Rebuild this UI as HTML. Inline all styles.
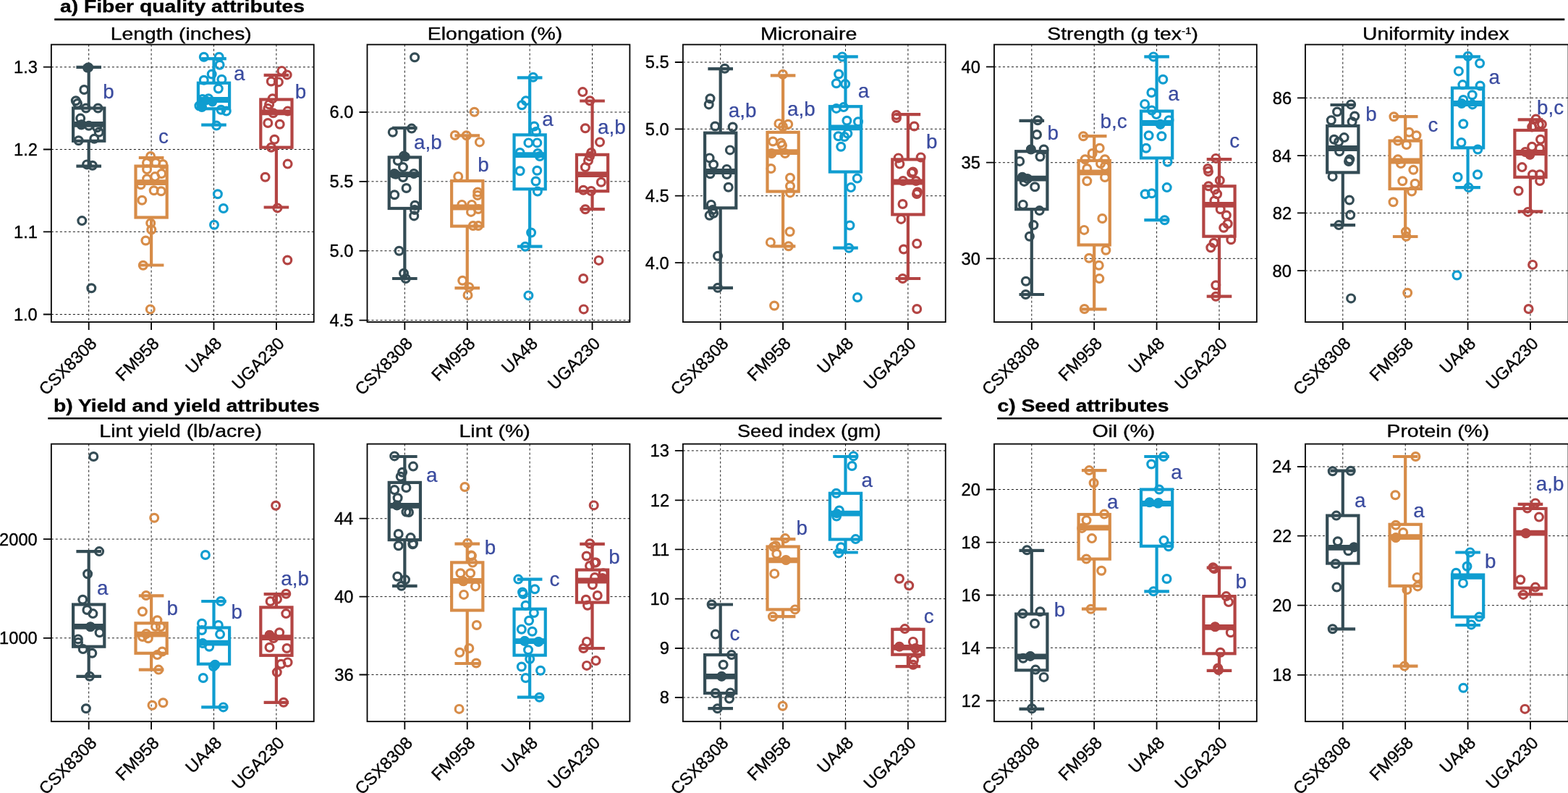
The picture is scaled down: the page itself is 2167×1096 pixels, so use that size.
<!DOCTYPE html>
<html><head><meta charset="utf-8"><title>Cotton fiber, yield and seed attributes</title>
<style>html,body{margin:0;padding:0;background:#fff;}svg{display:block;}</style></head><body>
<svg width="2167" height="1096" viewBox="0 0 2167 1096" font-family="'Liberation Sans', Arial, Helvetica, sans-serif">
<style>text{stroke:#000;stroke-width:0.35px;} text.let{stroke:#3a4b9f;stroke-width:0.25px;}</style>
<rect x="0" y="0" width="2167" height="1096" fill="#fff"/>
<text transform="translate(82.95,16.8) scale(1.1603,1)" font-size="24.4" font-weight="bold" fill="#000">a) Fiber quality attributes</text>
<line x1="75.2" y1="26.9" x2="2162.3" y2="26.9" stroke="#000" stroke-width="2.7"/>
<text transform="translate(73.96,568.7) scale(1.1601,1)" font-size="24.4" font-weight="bold" fill="#000">b) Yield and yield attributes</text>
<line x1="66.3" y1="578.2" x2="1301.5" y2="578.2" stroke="#000" stroke-width="2.5"/>
<text transform="translate(1378.47,568.5) scale(1.1580,1)" font-size="24.4" font-weight="bold" fill="#000">c) Seed attributes</text>
<line x1="1378.1" y1="578.2" x2="2167" y2="578.2" stroke="#000" stroke-width="2.5"/>
<g>
<path d="M70.86 434.5H433.74 M70.86 320.3H433.74 M70.86 206.5H433.74 M70.86 92.7H433.74 M122.7 61.6V445.1 M209.1 61.6V445.1 M295.5 61.6V445.1 M381.9 61.6V445.1" stroke="#1a1a1a" stroke-width="1.0" stroke-dasharray="3,3" fill="none"/>
<path d="M122.7 92.8V229.7 M105.4 92.8H140 M105.4 229.7H140" stroke="#344c55" stroke-width="4.2" fill="none"/>
<rect x="101.1" y="149.5" width="43.2" height="45.3" fill="#fff" stroke="#344c55" stroke-width="4.2"/>
<line x1="101.1" y1="171.8" x2="144.3" y2="171.8" stroke="#344c55" stroke-width="7.8"/>
<path d="M209.1 218V366.5 M191.8 218H226.4 M191.8 366.5H226.4" stroke="#d78c48" stroke-width="4.2" fill="none"/>
<rect x="187.5" y="229.6" width="43.2" height="70.9" fill="#fff" stroke="#d78c48" stroke-width="4.2"/>
<line x1="187.5" y1="252.2" x2="230.7" y2="252.2" stroke="#d78c48" stroke-width="7.8"/>
<path d="M295.5 81.1V172.7 M278.2 81.1H312.8 M278.2 172.7H312.8" stroke="#0f9dd0" stroke-width="4.2" fill="none"/>
<rect x="273.9" y="114.7" width="43.2" height="35.6" fill="#fff" stroke="#0f9dd0" stroke-width="4.2"/>
<line x1="273.9" y1="138" x2="317.1" y2="138" stroke="#0f9dd0" stroke-width="7.8"/>
<path d="M381.9 103.9V286.5 M364.6 103.9H399.2 M364.6 286.5H399.2" stroke="#b34443" stroke-width="4.2" fill="none"/>
<rect x="360.3" y="137.5" width="43.2" height="66.2" fill="#fff" stroke="#b34443" stroke-width="4.2"/>
<line x1="360.3" y1="155.4" x2="403.5" y2="155.4" stroke="#b34443" stroke-width="7.8"/>
<g fill="none" stroke="#344c55" stroke-width="3.2">
<circle cx="122.2" cy="93.3" r="5.4"/>
<circle cx="116.3" cy="124" r="5.4"/>
<circle cx="104.8" cy="139.3" r="5.4"/>
<circle cx="107" cy="143" r="5.4"/>
<circle cx="118.8" cy="149.5" r="5.4"/>
<circle cx="135.4" cy="149.5" r="5.4"/>
<circle cx="111.2" cy="163.6" r="5.4"/>
<circle cx="112.4" cy="172.5" r="5.4"/>
<circle cx="122.7" cy="173.8" r="5.4"/>
<circle cx="134.2" cy="176.3" r="5.4"/>
<circle cx="136.7" cy="182.7" r="5.4"/>
<circle cx="130.3" cy="191.7" r="5.4"/>
<circle cx="108.6" cy="194.2" r="5.4"/>
<circle cx="120.1" cy="227.4" r="5.4"/>
<circle cx="127.8" cy="228.7" r="5.4"/>
<circle cx="113.3" cy="305.1" r="5.4"/>
<circle cx="126.3" cy="398.2" r="5.4"/>
</g>
<g fill="none" stroke="#d78c48" stroke-width="3.2">
<circle cx="208.1" cy="216" r="5.4"/>
<circle cx="203" cy="225" r="5.4"/>
<circle cx="215.2" cy="225" r="5.4"/>
<circle cx="225.2" cy="227" r="5.4"/>
<circle cx="203.1" cy="234.1" r="5.4"/>
<circle cx="214.2" cy="244.1" r="5.4"/>
<circle cx="223.2" cy="240.1" r="5.4"/>
<circle cx="203.1" cy="247.2" r="5.4"/>
<circle cx="194.6" cy="255.2" r="5.4"/>
<circle cx="212.7" cy="263.2" r="5.4"/>
<circle cx="222.7" cy="264.2" r="5.4"/>
<circle cx="196.3" cy="276.8" r="5.4"/>
<circle cx="208.2" cy="308.4" r="5.4"/>
<circle cx="209.3" cy="317.5" r="5.4"/>
<circle cx="201.4" cy="332.5" r="5.4"/>
<circle cx="197.8" cy="366.8" r="5.4"/>
<circle cx="207.8" cy="427.4" r="5.4"/>
</g>
<g fill="none" stroke="#0f9dd0" stroke-width="3.2">
<circle cx="281.8" cy="78.7" r="5.4"/>
<circle cx="302.7" cy="78.7" r="5.4"/>
<circle cx="303.6" cy="89.7" r="5.4"/>
<circle cx="292.7" cy="102.5" r="5.4"/>
<circle cx="281.8" cy="110.7" r="5.4"/>
<circle cx="306.4" cy="109.8" r="5.4"/>
<circle cx="301.8" cy="122.5" r="5.4"/>
<circle cx="279.9" cy="137.1" r="5.4"/>
<circle cx="288.1" cy="136.2" r="5.4"/>
<circle cx="279" cy="148.1" r="5.4"/>
<circle cx="275.4" cy="146.3" r="5.4"/>
<circle cx="305.5" cy="151.7" r="5.4"/>
<circle cx="312.8" cy="153.6" r="5.4"/>
<circle cx="299.1" cy="173.6" r="5.4"/>
<circle cx="300.9" cy="268.3" r="5.4"/>
<circle cx="308.8" cy="288" r="5.4"/>
<circle cx="296" cy="310.8" r="5.4"/>
</g>
<g fill="none" stroke="#b34443" stroke-width="3.2">
<circle cx="389.4" cy="97.9" r="5.4"/>
<circle cx="396.7" cy="103.4" r="5.4"/>
<circle cx="374.8" cy="112.5" r="5.4"/>
<circle cx="384.9" cy="113.4" r="5.4"/>
<circle cx="376.7" cy="136.2" r="5.4"/>
<circle cx="372.1" cy="144.4" r="5.4"/>
<circle cx="370.3" cy="149.9" r="5.4"/>
<circle cx="397.6" cy="153.6" r="5.4"/>
<circle cx="377.6" cy="156.3" r="5.4"/>
<circle cx="370.3" cy="170" r="5.4"/>
<circle cx="386.7" cy="171.8" r="5.4"/>
<circle cx="379.4" cy="192.8" r="5.4"/>
<circle cx="374.8" cy="203.7" r="5.4"/>
<circle cx="397.6" cy="226.6" r="5.4"/>
<circle cx="366.6" cy="244.8" r="5.4"/>
<circle cx="383.4" cy="287.4" r="5.4"/>
<circle cx="397.3" cy="359.5" r="5.4"/>
</g>
<circle cx="120.6" cy="93.8" r="6.6" fill="#344c55"/>
<circle cx="112.9" cy="171.8" r="6.6" fill="#344c55"/>
<circle cx="284.5" cy="138.9" r="6.6" fill="#0f9dd0"/>
<circle cx="293.6" cy="140.8" r="6.6" fill="#0f9dd0"/>
<circle cx="278.5" cy="147.2" r="6.6" fill="#0f9dd0"/>
<text class="let" transform="translate(142.19,135.6) scale(1.0000,1)" font-size="27.8" fill="#3a4b9f">b</text>
<text class="let" transform="translate(218.95,197.6) scale(1.0000,1)" font-size="27.8" fill="#3a4b9f">c</text>
<text class="let" transform="translate(323.05,111) scale(1.0000,1)" font-size="27.8" fill="#3a4b9f">a</text>
<text class="let" transform="translate(407.69,135.6) scale(1.0000,1)" font-size="27.8" fill="#3a4b9f">b</text>
<rect x="70.86" y="61.6" width="362.88" height="383.5" fill="none" stroke="#000" stroke-width="1.8"/>
<path d="M59.86 434.5H70.86 M59.86 320.3H70.86 M59.86 206.5H70.86 M59.86 92.7H70.86 M122.7 445.1V456.1 M209.1 445.1V456.1 M295.5 445.1V456.1 M381.9 445.1V456.1" stroke="#000" stroke-width="1.8" fill="none"/>
<text transform="translate(18.88,442.9) scale(1.0300,1)" font-size="23" fill="#000">1.0</text>
<text transform="translate(19.12,328.7) scale(1.0300,1)" font-size="23" fill="#000">1.1</text>
<text transform="translate(19.12,214.9) scale(1.0300,1)" font-size="23" fill="#000">1.2</text>
<text transform="translate(19,101.1) scale(1.0300,1)" font-size="23" fill="#000">1.3</text>
<text transform="translate(135,476.1) rotate(-45)" font-size="23.6" text-anchor="end">CSX8308</text>
<text transform="translate(221.4,476.1) rotate(-45)" font-size="23.6" text-anchor="end">FM958</text>
<text transform="translate(307.8,476.1) rotate(-45)" font-size="23.6" text-anchor="end">UA48</text>
<text transform="translate(394.2,476.1) rotate(-45)" font-size="23.6" text-anchor="end">UGA230</text>
<text transform="translate(152.74,54.9) scale(1.1747,1)" font-size="24.1" fill="#000">Length (inches)</text>
</g>
<g>
<path d="M507.5 442.6H870.38 M507.5 346.7H870.38 M507.5 250.8H870.38 M507.5 155H870.38 M559.34 61.6V445.1 M645.74 61.6V445.1 M732.14 61.6V445.1 M818.54 61.6V445.1" stroke="#1a1a1a" stroke-width="1.0" stroke-dasharray="3,3" fill="none"/>
<path d="M559.34 176.9V385 M542.04 176.9H576.64 M542.04 385H576.64" stroke="#344c55" stroke-width="4.2" fill="none"/>
<rect x="537.74" y="217.4" width="43.2" height="70.6" fill="#fff" stroke="#344c55" stroke-width="4.2"/>
<line x1="537.74" y1="241.2" x2="580.94" y2="241.2" stroke="#344c55" stroke-width="7.8"/>
<path d="M645.74 187.3V398.2 M628.44 187.3H663.04 M628.44 398.2H663.04" stroke="#d78c48" stroke-width="4.2" fill="none"/>
<rect x="624.14" y="250" width="43.2" height="62.6" fill="#fff" stroke="#d78c48" stroke-width="4.2"/>
<line x1="624.14" y1="286.5" x2="667.34" y2="286.5" stroke="#d78c48" stroke-width="7.8"/>
<path d="M732.14 107.4V340.7 M714.84 107.4H749.44 M714.84 340.7H749.44" stroke="#0f9dd0" stroke-width="4.2" fill="none"/>
<rect x="710.54" y="186.4" width="43.2" height="74.9" fill="#fff" stroke="#0f9dd0" stroke-width="4.2"/>
<line x1="710.54" y1="214.2" x2="753.74" y2="214.2" stroke="#0f9dd0" stroke-width="7.8"/>
<path d="M818.54 139.5V289.2 M801.24 139.5H835.84 M801.24 289.2H835.84" stroke="#b34443" stroke-width="4.2" fill="none"/>
<rect x="796.94" y="213.8" width="43.2" height="50.4" fill="#fff" stroke="#b34443" stroke-width="4.2"/>
<line x1="796.94" y1="241.2" x2="840.14" y2="241.2" stroke="#b34443" stroke-width="7.8"/>
<g fill="none" stroke="#344c55" stroke-width="3.2">
<circle cx="573.1" cy="79.3" r="5.4"/>
<circle cx="542.8" cy="182.8" r="5.4"/>
<circle cx="568.9" cy="177.6" r="5.4"/>
<circle cx="558" cy="215.6" r="5.4"/>
<circle cx="549.8" cy="222" r="5.4"/>
<circle cx="557" cy="231.1" r="5.4"/>
<circle cx="545" cy="240" r="5.4"/>
<circle cx="557" cy="245" r="5.4"/>
<circle cx="572" cy="240" r="5.4"/>
<circle cx="561.6" cy="260" r="5.4"/>
<circle cx="545.2" cy="269.2" r="5.4"/>
<circle cx="573.5" cy="283.8" r="5.4"/>
<circle cx="573" cy="290" r="5.4"/>
<circle cx="572.2" cy="298.4" r="5.4"/>
<circle cx="551.6" cy="346.7" r="5.4"/>
<circle cx="558" cy="377.8" r="5.4"/>
<circle cx="560.7" cy="385" r="5.4"/>
</g>
<g fill="none" stroke="#d78c48" stroke-width="3.2">
<circle cx="655.6" cy="154.8" r="5.4"/>
<circle cx="628.8" cy="187" r="5.4"/>
<circle cx="644.7" cy="187.3" r="5.4"/>
<circle cx="662.9" cy="196.4" r="5.4"/>
<circle cx="633.2" cy="243.9" r="5.4"/>
<circle cx="660.2" cy="265.5" r="5.4"/>
<circle cx="660" cy="270" r="5.4"/>
<circle cx="638.3" cy="282.9" r="5.4"/>
<circle cx="652" cy="282.9" r="5.4"/>
<circle cx="651" cy="292.9" r="5.4"/>
<circle cx="661" cy="289" r="5.4"/>
<circle cx="653.8" cy="312" r="5.4"/>
<circle cx="661" cy="312" r="5.4"/>
<circle cx="639.2" cy="387.8" r="5.4"/>
<circle cx="648.3" cy="396.9" r="5.4"/>
<circle cx="646.5" cy="407.9" r="5.4"/>
</g>
<g fill="none" stroke="#0f9dd0" stroke-width="3.2">
<circle cx="736.8" cy="106.7" r="5.4"/>
<circle cx="726.8" cy="139.3" r="5.4"/>
<circle cx="721.3" cy="145.3" r="5.4"/>
<circle cx="738.3" cy="174.5" r="5.4"/>
<circle cx="741" cy="182" r="5.4"/>
<circle cx="730.4" cy="197.4" r="5.4"/>
<circle cx="742.3" cy="197.4" r="5.4"/>
<circle cx="718.6" cy="211" r="5.4"/>
<circle cx="743.2" cy="212" r="5.4"/>
<circle cx="746" cy="216" r="5.4"/>
<circle cx="718.6" cy="236.2" r="5.4"/>
<circle cx="742.3" cy="235.7" r="5.4"/>
<circle cx="740.5" cy="250.5" r="5.4"/>
<circle cx="742.9" cy="264.6" r="5.4"/>
<circle cx="734.1" cy="321.5" r="5.4"/>
<circle cx="725.9" cy="340.7" r="5.4"/>
<circle cx="730.4" cy="408.4" r="5.4"/>
</g>
<g fill="none" stroke="#b34443" stroke-width="3.2">
<circle cx="805.3" cy="127.1" r="5.4"/>
<circle cx="815.3" cy="139.3" r="5.4"/>
<circle cx="808.9" cy="177.3" r="5.4"/>
<circle cx="829" cy="196.4" r="5.4"/>
<circle cx="817.1" cy="211" r="5.4"/>
<circle cx="815" cy="216" r="5.4"/>
<circle cx="813" cy="222" r="5.4"/>
<circle cx="808.9" cy="231.1" r="5.4"/>
<circle cx="830.8" cy="251.8" r="5.4"/>
<circle cx="806.2" cy="262.8" r="5.4"/>
<circle cx="817" cy="264" r="5.4"/>
<circle cx="808.9" cy="289.2" r="5.4"/>
<circle cx="827.5" cy="359.9" r="5.4"/>
<circle cx="806.2" cy="385" r="5.4"/>
<circle cx="806.7" cy="427.4" r="5.4"/>
</g>
<circle cx="560.2" cy="216.5" r="6.6" fill="#344c55"/>
<circle cx="547" cy="241.2" r="6.6" fill="#344c55"/>
<text class="let" transform="translate(572.05,205.9) scale(1.0000,1)" font-size="27.8" fill="#3a4b9f">a,b</text>
<text class="let" transform="translate(660.19,237.2) scale(1.0000,1)" font-size="27.8" fill="#3a4b9f">b</text>
<text class="let" transform="translate(749.25,173.9) scale(1.0000,1)" font-size="27.8" fill="#3a4b9f">a</text>
<text class="let" transform="translate(825.95,184.9) scale(1.0000,1)" font-size="27.8" fill="#3a4b9f">a,b</text>
<rect x="507.5" y="61.6" width="362.88" height="383.5" fill="none" stroke="#000" stroke-width="1.8"/>
<path d="M496.5 442.6H507.5 M496.5 346.7H507.5 M496.5 250.8H507.5 M496.5 155H507.5 M559.34 445.1V456.1 M645.74 445.1V456.1 M732.14 445.1V456.1 M818.54 445.1V456.1" stroke="#000" stroke-width="1.8" fill="none"/>
<text transform="translate(455.52,451) scale(1.0300,1)" font-size="23" fill="#000">4.5</text>
<text transform="translate(455.52,355.1) scale(1.0300,1)" font-size="23" fill="#000">5.0</text>
<text transform="translate(455.52,259.2) scale(1.0300,1)" font-size="23" fill="#000">5.5</text>
<text transform="translate(455.52,163.4) scale(1.0300,1)" font-size="23" fill="#000">6.0</text>
<text transform="translate(571.64,476.1) rotate(-45)" font-size="23.6" text-anchor="end">CSX8308</text>
<text transform="translate(658.04,476.1) rotate(-45)" font-size="23.6" text-anchor="end">FM958</text>
<text transform="translate(744.44,476.1) rotate(-45)" font-size="23.6" text-anchor="end">UA48</text>
<text transform="translate(830.84,476.1) rotate(-45)" font-size="23.6" text-anchor="end">UGA230</text>
<text transform="translate(590.83,54.9) scale(1.1798,1)" font-size="24.1" fill="#000">Elongation (%)</text>
</g>
<g>
<path d="M943.85 363.2H1306.73 M943.85 270.7H1306.73 M943.85 178.3H1306.73 M943.85 86H1306.73 M995.69 61.6V445.1 M1082.09 61.6V445.1 M1168.49 61.6V445.1 M1254.89 61.6V445.1" stroke="#1a1a1a" stroke-width="1.0" stroke-dasharray="3,3" fill="none"/>
<path d="M995.69 95.2V397.8 M978.39 95.2H1012.99 M978.39 397.8H1012.99" stroke="#344c55" stroke-width="4.2" fill="none"/>
<rect x="974.09" y="183.7" width="43.2" height="103.7" fill="#fff" stroke="#344c55" stroke-width="4.2"/>
<line x1="974.09" y1="237" x2="1017.29" y2="237" stroke="#344c55" stroke-width="7.8"/>
<path d="M1082.09 104.3V340.3 M1064.79 104.3H1099.39 M1064.79 340.3H1099.39" stroke="#d78c48" stroke-width="4.2" fill="none"/>
<rect x="1060.49" y="182.8" width="43.2" height="81.8" fill="#fff" stroke="#d78c48" stroke-width="4.2"/>
<line x1="1060.49" y1="210.1" x2="1103.69" y2="210.1" stroke="#d78c48" stroke-width="7.8"/>
<path d="M1168.49 78.4V342.7 M1151.19 78.4H1185.79 M1151.19 342.7H1185.79" stroke="#0f9dd0" stroke-width="4.2" fill="none"/>
<rect x="1146.89" y="147.2" width="43.2" height="90.3" fill="#fff" stroke="#0f9dd0" stroke-width="4.2"/>
<line x1="1146.89" y1="176.4" x2="1190.09" y2="176.4" stroke="#0f9dd0" stroke-width="7.8"/>
<path d="M1254.89 158.1V385 M1237.59 158.1H1272.19 M1237.59 385H1272.19" stroke="#b34443" stroke-width="4.2" fill="none"/>
<rect x="1233.29" y="220.4" width="43.2" height="76.1" fill="#fff" stroke="#b34443" stroke-width="4.2"/>
<line x1="1233.29" y1="251.5" x2="1276.49" y2="251.5" stroke="#b34443" stroke-width="7.8"/>
<g fill="none" stroke="#344c55" stroke-width="3.2">
<circle cx="1001.6" cy="94.8" r="5.4"/>
<circle cx="981.5" cy="136.2" r="5.4"/>
<circle cx="979.7" cy="144.4" r="5.4"/>
<circle cx="988.3" cy="174.5" r="5.4"/>
<circle cx="1012.6" cy="175.5" r="5.4"/>
<circle cx="1008.9" cy="207.4" r="5.4"/>
<circle cx="980.6" cy="218.4" r="5.4"/>
<circle cx="986.1" cy="227.5" r="5.4"/>
<circle cx="1004.4" cy="233.9" r="5.4"/>
<circle cx="981.5" cy="240.3" r="5.4"/>
<circle cx="1004.4" cy="241" r="5.4"/>
<circle cx="1006.7" cy="258.8" r="5.4"/>
<circle cx="982.8" cy="282.9" r="5.4"/>
<circle cx="985" cy="290" r="5.4"/>
<circle cx="986.1" cy="294.7" r="5.4"/>
<circle cx="980.6" cy="297.8" r="5.4"/>
<circle cx="992" cy="353.7" r="5.4"/>
<circle cx="992" cy="397.8" r="5.4"/>
</g>
<g fill="none" stroke="#d78c48" stroke-width="3.2">
<circle cx="1081.9" cy="102.8" r="5.4"/>
<circle cx="1076.4" cy="170.9" r="5.4"/>
<circle cx="1089.2" cy="171.8" r="5.4"/>
<circle cx="1082" cy="175" r="5.4"/>
<circle cx="1068.2" cy="195.5" r="5.4"/>
<circle cx="1079.2" cy="197.4" r="5.4"/>
<circle cx="1081" cy="201" r="5.4"/>
<circle cx="1066.4" cy="212" r="5.4"/>
<circle cx="1085" cy="212" r="5.4"/>
<circle cx="1065.5" cy="233" r="5.4"/>
<circle cx="1092" cy="245.7" r="5.4"/>
<circle cx="1092" cy="257.3" r="5.4"/>
<circle cx="1092" cy="266.4" r="5.4"/>
<circle cx="1091.6" cy="320.3" r="5.4"/>
<circle cx="1064.9" cy="334.9" r="5.4"/>
<circle cx="1089.8" cy="340.3" r="5.4"/>
<circle cx="1070.1" cy="422.5" r="5.4"/>
</g>
<g fill="none" stroke="#0f9dd0" stroke-width="3.2">
<circle cx="1164" cy="78.4" r="5.4"/>
<circle cx="1159.1" cy="102.5" r="5.4"/>
<circle cx="1155.8" cy="115.2" r="5.4"/>
<circle cx="1168.2" cy="116.1" r="5.4"/>
<circle cx="1155.8" cy="149.9" r="5.4"/>
<circle cx="1165.9" cy="148.1" r="5.4"/>
<circle cx="1170.4" cy="166.7" r="5.4"/>
<circle cx="1186" cy="168.2" r="5.4"/>
<circle cx="1171.4" cy="184.6" r="5.4"/>
<circle cx="1158.6" cy="188.2" r="5.4"/>
<circle cx="1167" cy="189" r="5.4"/>
<circle cx="1162.2" cy="202.8" r="5.4"/>
<circle cx="1184.7" cy="246.6" r="5.4"/>
<circle cx="1175.9" cy="259.1" r="5.4"/>
<circle cx="1174.5" cy="311.5" r="5.4"/>
<circle cx="1173.2" cy="342.7" r="5.4"/>
<circle cx="1185" cy="411" r="5.4"/>
</g>
<g fill="none" stroke="#b34443" stroke-width="3.2">
<circle cx="1238.9" cy="159" r="5.4"/>
<circle cx="1239" cy="163" r="5.4"/>
<circle cx="1263.5" cy="174.5" r="5.4"/>
<circle cx="1241.6" cy="218.4" r="5.4"/>
<circle cx="1272.6" cy="217.4" r="5.4"/>
<circle cx="1243.4" cy="226.6" r="5.4"/>
<circle cx="1261.7" cy="237.5" r="5.4"/>
<circle cx="1260" cy="239" r="5.4"/>
<circle cx="1248" cy="250" r="5.4"/>
<circle cx="1266" cy="250" r="5.4"/>
<circle cx="1268.1" cy="265.5" r="5.4"/>
<circle cx="1267" cy="268" r="5.4"/>
<circle cx="1247.5" cy="282" r="5.4"/>
<circle cx="1245.3" cy="302.9" r="5.4"/>
<circle cx="1267.2" cy="336.7" r="5.4"/>
<circle cx="1248.9" cy="344.5" r="5.4"/>
<circle cx="1247.5" cy="385" r="5.4"/>
<circle cx="1267.2" cy="427" r="5.4"/>
</g>
<circle cx="1066.4" cy="212" r="6.6" fill="#d78c48"/>
<text class="let" transform="translate(1006.75,162.1) scale(1.0000,1)" font-size="27.8" fill="#3a4b9f">a,b</text>
<text class="let" transform="translate(1087.95,160.2) scale(1.0000,1)" font-size="27.8" fill="#3a4b9f">a,b</text>
<text class="let" transform="translate(1185.65,134.7) scale(1.0000,1)" font-size="27.8" fill="#3a4b9f">a</text>
<text class="let" transform="translate(1279.99,204.9) scale(1.0000,1)" font-size="27.8" fill="#3a4b9f">b</text>
<rect x="943.85" y="61.6" width="362.88" height="383.5" fill="none" stroke="#000" stroke-width="1.8"/>
<path d="M932.85 363.2H943.85 M932.85 270.7H943.85 M932.85 178.3H943.85 M932.85 86H943.85 M995.69 445.1V456.1 M1082.09 445.1V456.1 M1168.49 445.1V456.1 M1254.89 445.1V456.1" stroke="#000" stroke-width="1.8" fill="none"/>
<text transform="translate(891.87,371.6) scale(1.0300,1)" font-size="23" fill="#000">4.0</text>
<text transform="translate(891.87,279.1) scale(1.0300,1)" font-size="23" fill="#000">4.5</text>
<text transform="translate(891.87,186.7) scale(1.0300,1)" font-size="23" fill="#000">5.0</text>
<text transform="translate(891.87,94.4) scale(1.0300,1)" font-size="23" fill="#000">5.5</text>
<text transform="translate(1007.99,476.1) rotate(-45)" font-size="23.6" text-anchor="end">CSX8308</text>
<text transform="translate(1094.39,476.1) rotate(-45)" font-size="23.6" text-anchor="end">FM958</text>
<text transform="translate(1180.79,476.1) rotate(-45)" font-size="23.6" text-anchor="end">UA48</text>
<text transform="translate(1267.19,476.1) rotate(-45)" font-size="23.6" text-anchor="end">UGA230</text>
<text transform="translate(1050.91,54.9) scale(1.1863,1)" font-size="24.1" fill="#000">Micronaire</text>
</g>
<g>
<path d="M1373.95 357.3H1736.83 M1373.95 224.7H1736.83 M1373.95 92.4H1736.83 M1425.79 61.6V445.1 M1512.19 61.6V445.1 M1598.59 61.6V445.1 M1684.99 61.6V445.1" stroke="#1a1a1a" stroke-width="1.0" stroke-dasharray="3,3" fill="none"/>
<path d="M1425.79 166.9V407 M1408.49 166.9H1443.09 M1408.49 407H1443.09" stroke="#344c55" stroke-width="4.2" fill="none"/>
<rect x="1404.19" y="209.2" width="43.2" height="80" fill="#fff" stroke="#344c55" stroke-width="4.2"/>
<line x1="1404.19" y1="246.6" x2="1447.39" y2="246.6" stroke="#344c55" stroke-width="7.8"/>
<path d="M1512.19 188.2V427.4 M1494.89 188.2H1529.49 M1494.89 427.4H1529.49" stroke="#d78c48" stroke-width="4.2" fill="none"/>
<rect x="1490.59" y="222" width="43.2" height="116.5" fill="#fff" stroke="#d78c48" stroke-width="4.2"/>
<line x1="1490.59" y1="238.4" x2="1533.79" y2="238.4" stroke="#d78c48" stroke-width="7.8"/>
<path d="M1598.59 78.4V304.2 M1581.29 78.4H1615.89 M1581.29 304.2H1615.89" stroke="#0f9dd0" stroke-width="4.2" fill="none"/>
<rect x="1576.99" y="153.6" width="43.2" height="64.8" fill="#fff" stroke="#0f9dd0" stroke-width="4.2"/>
<line x1="1576.99" y1="170" x2="1620.19" y2="170" stroke="#0f9dd0" stroke-width="7.8"/>
<path d="M1684.99 220.2V409.7 M1667.69 220.2H1702.29 M1667.69 409.7H1702.29" stroke="#b34443" stroke-width="4.2" fill="none"/>
<rect x="1663.39" y="257.3" width="43.2" height="69.4" fill="#fff" stroke="#b34443" stroke-width="4.2"/>
<line x1="1663.39" y1="282.9" x2="1706.59" y2="282.9" stroke="#b34443" stroke-width="7.8"/>
<g fill="none" stroke="#344c55" stroke-width="3.2">
<circle cx="1434.2" cy="166.3" r="5.4"/>
<circle cx="1433" cy="186" r="5.4"/>
<circle cx="1424.8" cy="206.5" r="5.4"/>
<circle cx="1442.6" cy="206.5" r="5.4"/>
<circle cx="1437.5" cy="216.5" r="5.4"/>
<circle cx="1409.2" cy="222.9" r="5.4"/>
<circle cx="1412.9" cy="244.8" r="5.4"/>
<circle cx="1420" cy="247" r="5.4"/>
<circle cx="1415.6" cy="250.9" r="5.4"/>
<circle cx="1430.2" cy="258.2" r="5.4"/>
<circle cx="1413.8" cy="282.9" r="5.4"/>
<circle cx="1436.6" cy="291.1" r="5.4"/>
<circle cx="1428.4" cy="311.1" r="5.4"/>
<circle cx="1422.9" cy="326.7" r="5.4"/>
<circle cx="1417.8" cy="388.7" r="5.4"/>
<circle cx="1417.5" cy="407" r="5.4"/>
</g>
<g fill="none" stroke="#d78c48" stroke-width="3.2">
<circle cx="1497.2" cy="188.2" r="5.4"/>
<circle cx="1519.7" cy="204.7" r="5.4"/>
<circle cx="1509.6" cy="212" r="5.4"/>
<circle cx="1499.6" cy="220.2" r="5.4"/>
<circle cx="1527" cy="220.2" r="5.4"/>
<circle cx="1521" cy="226" r="5.4"/>
<circle cx="1502.3" cy="233" r="5.4"/>
<circle cx="1527" cy="230" r="5.4"/>
<circle cx="1502.3" cy="250.3" r="5.4"/>
<circle cx="1527" cy="245" r="5.4"/>
<circle cx="1523.3" cy="302" r="5.4"/>
<circle cx="1498.3" cy="317.9" r="5.4"/>
<circle cx="1528.4" cy="345.8" r="5.4"/>
<circle cx="1505.1" cy="356.8" r="5.4"/>
<circle cx="1518.7" cy="366.8" r="5.4"/>
<circle cx="1519.3" cy="385.1" r="5.4"/>
<circle cx="1498.7" cy="427" r="5.4"/>
</g>
<g fill="none" stroke="#0f9dd0" stroke-width="3.2">
<circle cx="1594.1" cy="78.4" r="5.4"/>
<circle cx="1607.3" cy="109.8" r="5.4"/>
<circle cx="1591.4" cy="128" r="5.4"/>
<circle cx="1582.1" cy="143.9" r="5.4"/>
<circle cx="1591.8" cy="152.6" r="5.4"/>
<circle cx="1598.1" cy="158.1" r="5.4"/>
<circle cx="1615.5" cy="166.3" r="5.4"/>
<circle cx="1603.6" cy="171.8" r="5.4"/>
<circle cx="1587.6" cy="187.3" r="5.4"/>
<circle cx="1605.4" cy="188.2" r="5.4"/>
<circle cx="1583.9" cy="204.7" r="5.4"/>
<circle cx="1613.6" cy="223.8" r="5.4"/>
<circle cx="1612.7" cy="259.1" r="5.4"/>
<circle cx="1582.6" cy="268.3" r="5.4"/>
<circle cx="1591.8" cy="267.3" r="5.4"/>
<circle cx="1609.5" cy="304.2" r="5.4"/>
</g>
<g fill="none" stroke="#b34443" stroke-width="3.2">
<circle cx="1680.3" cy="218.9" r="5.4"/>
<circle cx="1669.3" cy="233" r="5.4"/>
<circle cx="1670" cy="237" r="5.4"/>
<circle cx="1685.8" cy="249.4" r="5.4"/>
<circle cx="1670.2" cy="257.3" r="5.4"/>
<circle cx="1679" cy="262" r="5.4"/>
<circle cx="1682.1" cy="268.3" r="5.4"/>
<circle cx="1678.4" cy="277.4" r="5.4"/>
<circle cx="1686.7" cy="289.2" r="5.4"/>
<circle cx="1694.9" cy="297.5" r="5.4"/>
<circle cx="1696.7" cy="309.3" r="5.4"/>
<circle cx="1691.2" cy="314.8" r="5.4"/>
<circle cx="1701.3" cy="331.2" r="5.4"/>
<circle cx="1677.5" cy="335.8" r="5.4"/>
<circle cx="1673.3" cy="342.2" r="5.4"/>
<circle cx="1680.3" cy="394.2" r="5.4"/>
<circle cx="1680.3" cy="409.7" r="5.4"/>
</g>
<circle cx="1424.8" cy="206.5" r="6.6" fill="#344c55"/>
<circle cx="1412.9" cy="244.8" r="6.6" fill="#344c55"/>
<circle cx="1603.6" cy="171.8" r="6.6" fill="#0f9dd0"/>
<text class="let" transform="translate(1447.59,193.1) scale(1.0000,1)" font-size="27.8" fill="#3a4b9f">b</text>
<text class="let" transform="translate(1520.59,176.7) scale(1.0000,1)" font-size="27.8" fill="#3a4b9f">b,c</text>
<text class="let" transform="translate(1614.25,139.2) scale(1.0000,1)" font-size="27.8" fill="#3a4b9f">a</text>
<text class="let" transform="translate(1699.15,204.4) scale(1.0000,1)" font-size="27.8" fill="#3a4b9f">c</text>
<rect x="1373.95" y="61.6" width="362.88" height="383.5" fill="none" stroke="#000" stroke-width="1.8"/>
<path d="M1362.95 357.3H1373.95 M1362.95 224.7H1373.95 M1362.95 92.4H1373.95 M1425.79 445.1V456.1 M1512.19 445.1V456.1 M1598.59 445.1V456.1 M1684.99 445.1V456.1" stroke="#000" stroke-width="1.8" fill="none"/>
<text transform="translate(1328.6,365.7) scale(1.0300,1)" font-size="23" fill="#000">30</text>
<text transform="translate(1328.6,233.1) scale(1.0300,1)" font-size="23" fill="#000">35</text>
<text transform="translate(1328.6,100.8) scale(1.0300,1)" font-size="23" fill="#000">40</text>
<text transform="translate(1438.09,476.1) rotate(-45)" font-size="23.6" text-anchor="end">CSX8308</text>
<text transform="translate(1524.49,476.1) rotate(-45)" font-size="23.6" text-anchor="end">FM958</text>
<text transform="translate(1610.89,476.1) rotate(-45)" font-size="23.6" text-anchor="end">UA48</text>
<text transform="translate(1697.29,476.1) rotate(-45)" font-size="23.6" text-anchor="end">UGA230</text>
<text transform="translate(1447.33,54.9) scale(1.1750,1)" font-size="24.1">Strength (g tex<tspan font-size="13" dy="-8">-1</tspan><tspan dy="8">)</tspan></text>
</g>
<g>
<path d="M1803.95 374.1H2167.5 M1803.95 294.4H2167.5 M1803.95 215.1H2167.5 M1803.95 135.3H2167.5 M1855.79 61.6V445.1 M1942.19 61.6V445.1 M2028.59 61.6V445.1 M2114.99 61.6V445.1" stroke="#1a1a1a" stroke-width="1.0" stroke-dasharray="3,3" fill="none"/>
<path d="M1855.79 145V311.1 M1838.49 145H1873.09 M1838.49 311.1H1873.09" stroke="#344c55" stroke-width="4.2" fill="none"/>
<rect x="1834.19" y="174" width="43.2" height="64.4" fill="#fff" stroke="#344c55" stroke-width="4.2"/>
<line x1="1834.19" y1="205" x2="1877.39" y2="205" stroke="#344c55" stroke-width="7.8"/>
<path d="M1942.19 161.2V327 M1924.89 161.2H1959.49 M1924.89 327H1959.49" stroke="#d78c48" stroke-width="4.2" fill="none"/>
<rect x="1920.59" y="194.6" width="43.2" height="66.4" fill="#fff" stroke="#d78c48" stroke-width="4.2"/>
<line x1="1920.59" y1="222.5" x2="1963.79" y2="222.5" stroke="#d78c48" stroke-width="7.8"/>
<path d="M2028.59 78.4V259.1 M2011.29 78.4H2045.89 M2011.29 259.1H2045.89" stroke="#0f9dd0" stroke-width="4.2" fill="none"/>
<rect x="2006.99" y="121.6" width="43.2" height="82.7" fill="#fff" stroke="#0f9dd0" stroke-width="4.2"/>
<line x1="2006.99" y1="143" x2="2050.19" y2="143" stroke="#0f9dd0" stroke-width="7.8"/>
<path d="M2114.99 165.4V292.3 M2097.69 165.4H2132.29 M2097.69 292.3H2132.29" stroke="#b34443" stroke-width="4.2" fill="none"/>
<rect x="2093.39" y="180" width="43.2" height="64.8" fill="#fff" stroke="#b34443" stroke-width="4.2"/>
<line x1="2093.39" y1="211" x2="2136.59" y2="211" stroke="#b34443" stroke-width="7.8"/>
<g fill="none" stroke="#344c55" stroke-width="3.2">
<circle cx="1867.1" cy="144.4" r="5.4"/>
<circle cx="1848" cy="154.5" r="5.4"/>
<circle cx="1872.2" cy="160.5" r="5.4"/>
<circle cx="1839.8" cy="166.3" r="5.4"/>
<circle cx="1868.6" cy="168.2" r="5.4"/>
<circle cx="1857.6" cy="190.1" r="5.4"/>
<circle cx="1843.8" cy="192.8" r="5.4"/>
<circle cx="1850" cy="196" r="5.4"/>
<circle cx="1851.1" cy="209.2" r="5.4"/>
<circle cx="1865.3" cy="220.2" r="5.4"/>
<circle cx="1864" cy="223" r="5.4"/>
<circle cx="1841.6" cy="243.9" r="5.4"/>
<circle cx="1864.9" cy="276.5" r="5.4"/>
<circle cx="1866.2" cy="297.1" r="5.4"/>
<circle cx="1850.3" cy="311.1" r="5.4"/>
<circle cx="1867.1" cy="412.4" r="5.4"/>
</g>
<g fill="none" stroke="#d78c48" stroke-width="3.2">
<circle cx="1926.4" cy="161.2" r="5.4"/>
<circle cx="1947.4" cy="182.8" r="5.4"/>
<circle cx="1957.5" cy="187.3" r="5.4"/>
<circle cx="1931.9" cy="194.6" r="5.4"/>
<circle cx="1943.8" cy="200.1" r="5.4"/>
<circle cx="1931.9" cy="220.2" r="5.4"/>
<circle cx="1936" cy="226" r="5.4"/>
<circle cx="1953.3" cy="234.8" r="5.4"/>
<circle cx="1938.3" cy="250.3" r="5.4"/>
<circle cx="1955.6" cy="253.7" r="5.4"/>
<circle cx="1951.1" cy="264.6" r="5.4"/>
<circle cx="1925.5" cy="279.2" r="5.4"/>
<circle cx="1942.9" cy="320.3" r="5.4"/>
<circle cx="1943.4" cy="326.7" r="5.4"/>
<circle cx="1945.2" cy="404.8" r="5.4"/>
</g>
<g fill="none" stroke="#0f9dd0" stroke-width="3.2">
<circle cx="2028.7" cy="77.8" r="5.4"/>
<circle cx="2045.1" cy="87.5" r="5.4"/>
<circle cx="2015.9" cy="98.4" r="5.4"/>
<circle cx="2021.4" cy="117.1" r="5.4"/>
<circle cx="2045.6" cy="118.5" r="5.4"/>
<circle cx="2034.7" cy="131.3" r="5.4"/>
<circle cx="2022.3" cy="138" r="5.4"/>
<circle cx="2020" cy="143" r="5.4"/>
<circle cx="2035" cy="144.4" r="5.4"/>
<circle cx="2022.3" cy="171.3" r="5.4"/>
<circle cx="2019.5" cy="197" r="5.4"/>
<circle cx="2042.3" cy="206.5" r="5.4"/>
<circle cx="2014.6" cy="244.8" r="5.4"/>
<circle cx="2042" cy="241.2" r="5.4"/>
<circle cx="2029.6" cy="259.1" r="5.4"/>
<circle cx="2013.5" cy="380.5" r="5.4"/>
</g>
<g fill="none" stroke="#b34443" stroke-width="3.2">
<circle cx="2122.7" cy="164.5" r="5.4"/>
<circle cx="2130.9" cy="171.8" r="5.4"/>
<circle cx="2127" cy="172" r="5.4"/>
<circle cx="2117.2" cy="175.5" r="5.4"/>
<circle cx="2129" cy="192.8" r="5.4"/>
<circle cx="2117.2" cy="202.8" r="5.4"/>
<circle cx="2128" cy="205" r="5.4"/>
<circle cx="2114.4" cy="213.8" r="5.4"/>
<circle cx="2108" cy="210" r="5.4"/>
<circle cx="2103.5" cy="231.1" r="5.4"/>
<circle cx="2118.1" cy="241.2" r="5.4"/>
<circle cx="2128.1" cy="241.2" r="5.4"/>
<circle cx="2128.1" cy="250" r="5.4"/>
<circle cx="2098.6" cy="263.7" r="5.4"/>
<circle cx="2111.7" cy="292.9" r="5.4"/>
<circle cx="2118.1" cy="365.9" r="5.4"/>
<circle cx="2112.6" cy="427" r="5.4"/>
</g>
<circle cx="2114.4" cy="213.8" r="6.6" fill="#b34443"/>
<text class="let" transform="translate(1887.19,166.6) scale(1.0000,1)" font-size="27.8" fill="#3a4b9f">b</text>
<text class="let" transform="translate(1973.55,182.1) scale(1.0000,1)" font-size="27.8" fill="#3a4b9f">c</text>
<text class="let" transform="translate(2057.55,115.5) scale(1.0000,1)" font-size="27.8" fill="#3a4b9f">a</text>
<text class="let" transform="translate(2124.09,157.5) scale(1.0000,1)" font-size="27.8" fill="#3a4b9f">b,c</text>
<rect x="1803.95" y="61.6" width="363.55" height="383.5" fill="none" stroke="#000" stroke-width="1.8"/>
<path d="M1792.95 374.1H1803.95 M1792.95 294.4H1803.95 M1792.95 215.1H1803.95 M1792.95 135.3H1803.95 M1855.79 445.1V456.1 M1942.19 445.1V456.1 M2028.59 445.1V456.1 M2114.99 445.1V456.1" stroke="#000" stroke-width="1.8" fill="none"/>
<text transform="translate(1758.6,382.5) scale(1.0300,1)" font-size="23" fill="#000">80</text>
<text transform="translate(1758.84,302.8) scale(1.0300,1)" font-size="23" fill="#000">82</text>
<text transform="translate(1758.36,223.5) scale(1.0300,1)" font-size="23" fill="#000">84</text>
<text transform="translate(1758.72,143.7) scale(1.0300,1)" font-size="23" fill="#000">86</text>
<text transform="translate(1868.09,476.1) rotate(-45)" font-size="23.6" text-anchor="end">CSX8308</text>
<text transform="translate(1954.49,476.1) rotate(-45)" font-size="23.6" text-anchor="end">FM958</text>
<text transform="translate(2040.89,476.1) rotate(-45)" font-size="23.6" text-anchor="end">UA48</text>
<text transform="translate(2127.29,476.1) rotate(-45)" font-size="23.6" text-anchor="end">UGA230</text>
<text transform="translate(1883.08,54.9) scale(1.1731,1)" font-size="24.1" fill="#000">Uniformity index</text>
</g>
<g>
<path d="M70.86 881.8H433.74 M70.86 745.1H433.74 M122.7 613.6V997.2 M209.1 613.6V997.2 M295.5 613.6V997.2 M381.9 613.6V997.2" stroke="#1a1a1a" stroke-width="1.0" stroke-dasharray="3,3" fill="none"/>
<path d="M122.7 762.1V934.8 M105.4 762.1H140 M105.4 934.8H140" stroke="#344c55" stroke-width="4.2" fill="none"/>
<rect x="101.1" y="835.5" width="43.2" height="58.2" fill="#fff" stroke="#344c55" stroke-width="4.2"/>
<line x1="101.1" y1="865.9" x2="144.3" y2="865.9" stroke="#344c55" stroke-width="7.8"/>
<path d="M209.1 823.4V925.6 M191.8 823.4H226.4 M191.8 925.6H226.4" stroke="#d78c48" stroke-width="4.2" fill="none"/>
<rect x="187.5" y="861.3" width="43.2" height="41.5" fill="#fff" stroke="#d78c48" stroke-width="4.2"/>
<line x1="187.5" y1="876.6" x2="230.7" y2="876.6" stroke="#d78c48" stroke-width="7.8"/>
<path d="M295.5 831V977.4 M278.2 831H312.8 M278.2 977.4H312.8" stroke="#0f9dd0" stroke-width="4.2" fill="none"/>
<rect x="273.9" y="867.5" width="43.2" height="50.2" fill="#fff" stroke="#0f9dd0" stroke-width="4.2"/>
<line x1="273.9" y1="888.7" x2="317.1" y2="888.7" stroke="#0f9dd0" stroke-width="7.8"/>
<path d="M381.9 821.2V970.8 M364.6 821.2H399.2 M364.6 970.8H399.2" stroke="#b34443" stroke-width="4.2" fill="none"/>
<rect x="360.3" y="839.4" width="43.2" height="66.4" fill="#fff" stroke="#b34443" stroke-width="4.2"/>
<line x1="360.3" y1="881.2" x2="403.5" y2="881.2" stroke="#b34443" stroke-width="7.8"/>
<g fill="none" stroke="#344c55" stroke-width="3.2">
<circle cx="129.3" cy="631" r="5.4"/>
<circle cx="137.1" cy="762.1" r="5.4"/>
<circle cx="121.1" cy="793.3" r="5.4"/>
<circle cx="114.3" cy="828.7" r="5.4"/>
<circle cx="120.4" cy="843" r="5.4"/>
<circle cx="128.4" cy="848.1" r="5.4"/>
<circle cx="125" cy="866.3" r="5.4"/>
<circle cx="137.6" cy="874.3" r="5.4"/>
<circle cx="107.9" cy="883.4" r="5.4"/>
<circle cx="108" cy="888" r="5.4"/>
<circle cx="114.7" cy="897.1" r="5.4"/>
<circle cx="127.3" cy="902.8" r="5.4"/>
<circle cx="123.9" cy="934.8" r="5.4"/>
<circle cx="118.9" cy="979.2" r="5.4"/>
</g>
<g fill="none" stroke="#d78c48" stroke-width="3.2">
<circle cx="213.2" cy="715.7" r="5.4"/>
<circle cx="201.9" cy="823" r="5.4"/>
<circle cx="196.9" cy="845.3" r="5.4"/>
<circle cx="217.4" cy="857.2" r="5.4"/>
<circle cx="222" cy="866.3" r="5.4"/>
<circle cx="215" cy="866" r="5.4"/>
<circle cx="202" cy="876" r="5.4"/>
<circle cx="204.8" cy="882.3" r="5.4"/>
<circle cx="197" cy="880" r="5.4"/>
<circle cx="217.4" cy="905.1" r="5.4"/>
<circle cx="224.2" cy="900.5" r="5.4"/>
<circle cx="219.2" cy="925.6" r="5.4"/>
<circle cx="210.5" cy="974.7" r="5.4"/>
<circle cx="225.4" cy="971.3" r="5.4"/>
</g>
<g fill="none" stroke="#0f9dd0" stroke-width="3.2">
<circle cx="283.9" cy="767" r="5.4"/>
<circle cx="305.2" cy="831" r="5.4"/>
<circle cx="279" cy="861.8" r="5.4"/>
<circle cx="301.8" cy="864" r="5.4"/>
<circle cx="304.1" cy="876.6" r="5.4"/>
<circle cx="279" cy="871" r="5.4"/>
<circle cx="280.1" cy="889.1" r="5.4"/>
<circle cx="289.2" cy="893.7" r="5.4"/>
<circle cx="297.2" cy="918.8" r="5.4"/>
<circle cx="295" cy="921" r="5.4"/>
<circle cx="280.8" cy="937" r="5.4"/>
<circle cx="308.6" cy="977.4" r="5.4"/>
</g>
<g fill="none" stroke="#b34443" stroke-width="3.2">
<circle cx="381.1" cy="698.8" r="5.4"/>
<circle cx="395.3" cy="820.7" r="5.4"/>
<circle cx="373.6" cy="831" r="5.4"/>
<circle cx="383" cy="828" r="5.4"/>
<circle cx="395.3" cy="848.1" r="5.4"/>
<circle cx="372.5" cy="877.7" r="5.4"/>
<circle cx="386.2" cy="874.3" r="5.4"/>
<circle cx="378" cy="882" r="5.4"/>
<circle cx="372.5" cy="894.8" r="5.4"/>
<circle cx="396.5" cy="896" r="5.4"/>
<circle cx="388.5" cy="917.7" r="5.4"/>
<circle cx="397.6" cy="915.4" r="5.4"/>
<circle cx="382.8" cy="929.1" r="5.4"/>
<circle cx="391.9" cy="970.8" r="5.4"/>
</g>
<circle cx="125" cy="866.3" r="6.6" fill="#344c55"/>
<circle cx="297.2" cy="918.8" r="6.6" fill="#0f9dd0"/>
<circle cx="372.5" cy="877.7" r="6.6" fill="#b34443"/>
<text class="let" transform="translate(134.05,821.9) scale(1.0000,1)" font-size="27.8" fill="#3a4b9f">a</text>
<text class="let" transform="translate(230.39,850.4) scale(1.0000,1)" font-size="27.8" fill="#3a4b9f">b</text>
<text class="let" transform="translate(319.39,855) scale(1.0000,1)" font-size="27.8" fill="#3a4b9f">b</text>
<text class="let" transform="translate(388.35,809.4) scale(1.0000,1)" font-size="27.8" fill="#3a4b9f">a,b</text>
<rect x="70.86" y="613.6" width="362.88" height="383.6" fill="none" stroke="#000" stroke-width="1.8"/>
<path d="M59.86 881.8H70.86 M59.86 745.1H70.86 M122.7 997.2V1008.2 M209.1 997.2V1008.2 M295.5 997.2V1008.2 M381.9 997.2V1008.2" stroke="#000" stroke-width="1.8" fill="none"/>
<text transform="translate(-0.9,890.2) scale(1.0300,1)" font-size="23" fill="#000">1000</text>
<text transform="translate(-0.9,753.5) scale(1.0300,1)" font-size="23" fill="#000">2000</text>
<text transform="translate(135,1028.2) rotate(-45)" font-size="23.6" text-anchor="end">CSX8308</text>
<text transform="translate(221.4,1028.2) rotate(-45)" font-size="23.6" text-anchor="end">FM958</text>
<text transform="translate(307.8,1028.2) rotate(-45)" font-size="23.6" text-anchor="end">UA48</text>
<text transform="translate(394.2,1028.2) rotate(-45)" font-size="23.6" text-anchor="end">UGA230</text>
<text transform="translate(137.32,604.4) scale(1.1822,1)" font-size="24.1" fill="#000">Lint yield (lb/acre)</text>
</g>
<g>
<path d="M507.5 932.5H870.38 M507.5 824.6H870.38 M507.5 716.7H870.38 M559.34 613.6V997.2 M645.74 613.6V997.2 M732.14 613.6V997.2 M818.54 613.6V997.2" stroke="#1a1a1a" stroke-width="1.0" stroke-dasharray="3,3" fill="none"/>
<path d="M559.34 631V809.8 M542.04 631H576.64 M542.04 809.8H576.64" stroke="#344c55" stroke-width="4.2" fill="none"/>
<rect x="537.74" y="666.9" width="43.2" height="79.2" fill="#fff" stroke="#344c55" stroke-width="4.2"/>
<line x1="537.74" y1="698.8" x2="580.94" y2="698.8" stroke="#344c55" stroke-width="7.8"/>
<path d="M645.74 751.6V917 M628.44 751.6H663.04 M628.44 917H663.04" stroke="#d78c48" stroke-width="4.2" fill="none"/>
<rect x="624.14" y="777.4" width="43.2" height="66.1" fill="#fff" stroke="#d78c48" stroke-width="4.2"/>
<line x1="624.14" y1="802.9" x2="667.34" y2="802.9" stroke="#d78c48" stroke-width="7.8"/>
<path d="M732.14 800.6V963.7 M714.84 800.6H749.44 M714.84 963.7H749.44" stroke="#0f9dd0" stroke-width="4.2" fill="none"/>
<rect x="710.54" y="841.7" width="43.2" height="63.9" fill="#fff" stroke="#0f9dd0" stroke-width="4.2"/>
<line x1="710.54" y1="886.2" x2="753.74" y2="886.2" stroke="#0f9dd0" stroke-width="7.8"/>
<path d="M818.54 751.8V896 M801.24 751.8H835.84 M801.24 896H835.84" stroke="#b34443" stroke-width="4.2" fill="none"/>
<rect x="796.94" y="787.6" width="43.2" height="45" fill="#fff" stroke="#b34443" stroke-width="4.2"/>
<line x1="796.94" y1="802.5" x2="840.14" y2="802.5" stroke="#b34443" stroke-width="7.8"/>
<g fill="none" stroke="#344c55" stroke-width="3.2">
<circle cx="545.2" cy="630.4" r="5.4"/>
<circle cx="571" cy="644.6" r="5.4"/>
<circle cx="556.1" cy="652.7" r="5.4"/>
<circle cx="553.7" cy="658.8" r="5.4"/>
<circle cx="561.4" cy="674" r="5.4"/>
<circle cx="545.2" cy="677.1" r="5.4"/>
<circle cx="549.6" cy="688.2" r="5.4"/>
<circle cx="548.6" cy="698.4" r="5.4"/>
<circle cx="561.4" cy="707.5" r="5.4"/>
<circle cx="565" cy="708" r="5.4"/>
<circle cx="550.7" cy="738" r="5.4"/>
<circle cx="567.5" cy="743.1" r="5.4"/>
<circle cx="550.7" cy="754.2" r="5.4"/>
<circle cx="571" cy="751.2" r="5.4"/>
<circle cx="570.3" cy="752.3" r="5.4"/>
<circle cx="549.3" cy="796.8" r="5.4"/>
<circle cx="560" cy="801.3" r="5.4"/>
<circle cx="554.8" cy="809.8" r="5.4"/>
</g>
<g fill="none" stroke="#d78c48" stroke-width="3.2">
<circle cx="642.4" cy="673" r="5.4"/>
<circle cx="646.1" cy="750.8" r="5.4"/>
<circle cx="651.2" cy="767.4" r="5.4"/>
<circle cx="651.9" cy="768.2" r="5.4"/>
<circle cx="653.2" cy="777.6" r="5.4"/>
<circle cx="636.4" cy="792.2" r="5.4"/>
<circle cx="650.1" cy="792.2" r="5.4"/>
<circle cx="640" cy="803" r="5.4"/>
<circle cx="657" cy="810.4" r="5.4"/>
<circle cx="641" cy="821.9" r="5.4"/>
<circle cx="658.8" cy="864" r="5.4"/>
<circle cx="648.3" cy="896" r="5.4"/>
<circle cx="635.3" cy="901.7" r="5.4"/>
<circle cx="658.1" cy="916.5" r="5.4"/>
<circle cx="634.6" cy="979.9" r="5.4"/>
</g>
<g fill="none" stroke="#0f9dd0" stroke-width="3.2">
<circle cx="716.3" cy="800.6" r="5.4"/>
<circle cx="739.1" cy="814.3" r="5.4"/>
<circle cx="722" cy="818.4" r="5.4"/>
<circle cx="723" cy="821" r="5.4"/>
<circle cx="726.5" cy="836.7" r="5.4"/>
<circle cx="737.9" cy="847" r="5.4"/>
<circle cx="731.1" cy="857.7" r="5.4"/>
<circle cx="720.8" cy="869.8" r="5.4"/>
<circle cx="735.6" cy="872.7" r="5.4"/>
<circle cx="725" cy="886" r="5.4"/>
<circle cx="744" cy="887" r="5.4"/>
<circle cx="730" cy="898.3" r="5.4"/>
<circle cx="732.2" cy="910.8" r="5.4"/>
<circle cx="720.8" cy="921.5" r="5.4"/>
<circle cx="747" cy="926.8" r="5.4"/>
<circle cx="726.5" cy="937" r="5.4"/>
<circle cx="745.5" cy="963.7" r="5.4"/>
</g>
<g fill="none" stroke="#b34443" stroke-width="3.2">
<circle cx="820.7" cy="698.4" r="5.4"/>
<circle cx="815.2" cy="751.2" r="5.4"/>
<circle cx="810.6" cy="768.5" r="5.4"/>
<circle cx="821.7" cy="777.6" r="5.4"/>
<circle cx="823.5" cy="777.4" r="5.4"/>
<circle cx="815" cy="782" r="5.4"/>
<circle cx="833.7" cy="792.2" r="5.4"/>
<circle cx="822" cy="798" r="5.4"/>
<circle cx="818.9" cy="808.2" r="5.4"/>
<circle cx="825.7" cy="823" r="5.4"/>
<circle cx="809.8" cy="828.7" r="5.4"/>
<circle cx="812" cy="836.7" r="5.4"/>
<circle cx="810.9" cy="886.9" r="5.4"/>
<circle cx="806.4" cy="896" r="5.4"/>
<circle cx="823.5" cy="913.1" r="5.4"/>
<circle cx="810.9" cy="919.9" r="5.4"/>
</g>
<circle cx="548.6" cy="698.4" r="6.6" fill="#344c55"/>
<circle cx="640.5" cy="803.6" r="6.6" fill="#d78c48"/>
<circle cx="725.4" cy="885.7" r="6.6" fill="#0f9dd0"/>
<circle cx="744.8" cy="886.9" r="6.6" fill="#0f9dd0"/>
<circle cx="832.5" cy="798.5" r="6.6" fill="#b34443"/>
<text class="let" transform="translate(589.05,666.4) scale(1.0000,1)" font-size="27.8" fill="#3a4b9f">a</text>
<text class="let" transform="translate(669.69,766.2) scale(1.0000,1)" font-size="27.8" fill="#3a4b9f">b</text>
<text class="let" transform="translate(759.45,810.4) scale(1.0000,1)" font-size="27.8" fill="#3a4b9f">c</text>
<text class="let" transform="translate(841.19,779.1) scale(1.0000,1)" font-size="27.8" fill="#3a4b9f">b</text>
<rect x="507.5" y="613.6" width="362.88" height="383.6" fill="none" stroke="#000" stroke-width="1.8"/>
<path d="M496.5 932.5H507.5 M496.5 824.6H507.5 M496.5 716.7H507.5 M559.34 997.2V1008.2 M645.74 997.2V1008.2 M732.14 997.2V1008.2 M818.54 997.2V1008.2" stroke="#000" stroke-width="1.8" fill="none"/>
<text transform="translate(462.27,940.9) scale(1.0300,1)" font-size="23" fill="#000">36</text>
<text transform="translate(462.15,833) scale(1.0300,1)" font-size="23" fill="#000">40</text>
<text transform="translate(461.91,725.1) scale(1.0300,1)" font-size="23" fill="#000">44</text>
<text transform="translate(571.64,1028.2) rotate(-45)" font-size="23.6" text-anchor="end">CSX8308</text>
<text transform="translate(658.04,1028.2) rotate(-45)" font-size="23.6" text-anchor="end">FM958</text>
<text transform="translate(744.44,1028.2) rotate(-45)" font-size="23.6" text-anchor="end">UA48</text>
<text transform="translate(830.84,1028.2) rotate(-45)" font-size="23.6" text-anchor="end">UGA230</text>
<text transform="translate(634.41,604.4) scale(1.1857,1)" font-size="24.1" fill="#000">Lint (%)</text>
</g>
<g>
<path d="M943.85 964H1306.73 M943.85 896H1306.73 M943.85 827.6H1306.73 M943.85 759.4H1306.73 M943.85 691.3H1306.73 M943.85 622.9H1306.73 M995.69 613.6V997.2 M1082.09 613.6V997.2 M1168.49 613.6V997.2 M1254.89 613.6V997.2" stroke="#1a1a1a" stroke-width="1.0" stroke-dasharray="3,3" fill="none"/>
<path d="M995.69 835.5V979.2 M978.39 835.5H1012.99 M978.39 979.2H1012.99" stroke="#344c55" stroke-width="4.2" fill="none"/>
<rect x="974.09" y="905.1" width="43.2" height="52.9" fill="#fff" stroke="#344c55" stroke-width="4.2"/>
<line x1="974.09" y1="934.8" x2="1017.29" y2="934.8" stroke="#344c55" stroke-width="7.8"/>
<path d="M1082.09 745.1V852.2 M1064.79 745.1H1099.39 M1064.79 852.2H1099.39" stroke="#d78c48" stroke-width="4.2" fill="none"/>
<rect x="1060.49" y="755.5" width="43.2" height="86.9" fill="#fff" stroke="#d78c48" stroke-width="4.2"/>
<line x1="1060.49" y1="774.3" x2="1103.69" y2="774.3" stroke="#d78c48" stroke-width="7.8"/>
<path d="M1168.49 631V763.5 M1151.19 631H1185.79 M1151.19 763.5H1185.79" stroke="#0f9dd0" stroke-width="4.2" fill="none"/>
<rect x="1146.89" y="681.8" width="43.2" height="63.7" fill="#fff" stroke="#0f9dd0" stroke-width="4.2"/>
<line x1="1146.89" y1="709.6" x2="1190.09" y2="709.6" stroke="#0f9dd0" stroke-width="7.8"/>
<path d="M1254.89 869.8V921.1 M1237.59 869.8H1272.19 M1237.59 921.1H1272.19" stroke="#b34443" stroke-width="4.2" fill="none"/>
<rect x="1233.29" y="869.8" width="43.2" height="34.9" fill="#fff" stroke="#b34443" stroke-width="4.2"/>
<line x1="1233.29" y1="894.8" x2="1276.49" y2="894.8" stroke="#b34443" stroke-width="7.8"/>
<g fill="none" stroke="#344c55" stroke-width="3.2">
<circle cx="983.6" cy="835.5" r="5.4"/>
<circle cx="988.8" cy="876.6" r="5.4"/>
<circle cx="1011" cy="905.1" r="5.4"/>
<circle cx="999.6" cy="918.8" r="5.4"/>
<circle cx="997.3" cy="934.8" r="5.4"/>
<circle cx="988.8" cy="958" r="5.4"/>
<circle cx="1009.4" cy="957.6" r="5.4"/>
<circle cx="1008" cy="965.6" r="5.4"/>
<circle cx="991.6" cy="979.2" r="5.4"/>
</g>
<g fill="none" stroke="#d78c48" stroke-width="3.2">
<circle cx="1085.1" cy="744.1" r="5.4"/>
<circle cx="1071.9" cy="754.2" r="5.4"/>
<circle cx="1069.1" cy="755.7" r="5.4"/>
<circle cx="1073.3" cy="765.5" r="5.4"/>
<circle cx="1086.2" cy="774" r="5.4"/>
<circle cx="1070.3" cy="792.9" r="5.4"/>
<circle cx="1098.8" cy="842.4" r="5.4"/>
<circle cx="1068" cy="852.2" r="5.4"/>
<circle cx="1081.7" cy="975.8" r="5.4"/>
</g>
<g fill="none" stroke="#0f9dd0" stroke-width="3.2">
<circle cx="1179.5" cy="630.4" r="5.4"/>
<circle cx="1177.5" cy="644" r="5.4"/>
<circle cx="1155.7" cy="681.8" r="5.4"/>
<circle cx="1159.8" cy="705.5" r="5.4"/>
<circle cx="1156.1" cy="713.6" r="5.4"/>
<circle cx="1182.5" cy="745.1" r="5.4"/>
<circle cx="1162.2" cy="756.3" r="5.4"/>
<circle cx="1159.2" cy="764.4" r="5.4"/>
</g>
<g fill="none" stroke="#b34443" stroke-width="3.2">
<circle cx="1243" cy="799.7" r="5.4"/>
<circle cx="1256.2" cy="809.3" r="5.4"/>
<circle cx="1250.5" cy="869.1" r="5.4"/>
<circle cx="1261.9" cy="886.9" r="5.4"/>
<circle cx="1243" cy="893.7" r="5.4"/>
<circle cx="1265.3" cy="896" r="5.4"/>
<circle cx="1268.7" cy="902.8" r="5.4"/>
<circle cx="1263" cy="912" r="5.4"/>
<circle cx="1261.9" cy="918.8" r="5.4"/>
</g>
<circle cx="997.3" cy="934.8" r="6.6" fill="#344c55"/>
<circle cx="1156.5" cy="709.6" r="6.6" fill="#0f9dd0"/>
<circle cx="1086.2" cy="774" r="6.6" fill="#d78c48"/>
<circle cx="1243" cy="893.7" r="6.6" fill="#b34443"/>
<text class="let" transform="translate(1008.55,885.4) scale(1.0000,1)" font-size="27.8" fill="#3a4b9f">c</text>
<text class="let" transform="translate(1100.49,739.2) scale(1.0000,1)" font-size="27.8" fill="#3a4b9f">b</text>
<text class="let" transform="translate(1190.45,673.2) scale(1.0000,1)" font-size="27.8" fill="#3a4b9f">a</text>
<text class="let" transform="translate(1276.75,860.7) scale(1.0000,1)" font-size="27.8" fill="#3a4b9f">c</text>
<rect x="943.85" y="613.6" width="362.88" height="383.6" fill="none" stroke="#000" stroke-width="1.8"/>
<path d="M932.85 964H943.85 M932.85 896H943.85 M932.85 827.6H943.85 M932.85 759.4H943.85 M932.85 691.3H943.85 M932.85 622.9H943.85 M995.69 997.2V1008.2 M1082.09 997.2V1008.2 M1168.49 997.2V1008.2 M1254.89 997.2V1008.2" stroke="#000" stroke-width="1.8" fill="none"/>
<text transform="translate(911.65,972.4) scale(1.0300,1)" font-size="23" fill="#000">8</text>
<text transform="translate(911.77,904.4) scale(1.0300,1)" font-size="23" fill="#000">9</text>
<text transform="translate(898.5,836) scale(1.0300,1)" font-size="23" fill="#000">10</text>
<text transform="translate(900.52,767.8) scale(1.0300,1)" font-size="23" fill="#000">11</text>
<text transform="translate(898.74,699.7) scale(1.0300,1)" font-size="23" fill="#000">12</text>
<text transform="translate(898.62,631.3) scale(1.0300,1)" font-size="23" fill="#000">13</text>
<text transform="translate(1007.99,1028.2) rotate(-45)" font-size="23.6" text-anchor="end">CSX8308</text>
<text transform="translate(1094.39,1028.2) rotate(-45)" font-size="23.6" text-anchor="end">FM958</text>
<text transform="translate(1180.79,1028.2) rotate(-45)" font-size="23.6" text-anchor="end">UA48</text>
<text transform="translate(1267.19,1028.2) rotate(-45)" font-size="23.6" text-anchor="end">UGA230</text>
<text transform="translate(1018.88,604.4) scale(1.1249,1)" font-size="24.1" fill="#000">Seed index (gm)</text>
</g>
<g>
<path d="M1373.95 968.5H1736.83 M1373.95 895.3H1736.83 M1373.95 822.5H1736.83 M1373.95 749.6H1736.83 M1373.95 676.5H1736.83 M1425.79 613.6V997.2 M1512.19 613.6V997.2 M1598.59 613.6V997.2 M1684.99 613.6V997.2" stroke="#1a1a1a" stroke-width="1.0" stroke-dasharray="3,3" fill="none"/>
<path d="M1425.79 760.9V979.9 M1408.49 760.9H1443.09 M1408.49 979.9H1443.09" stroke="#344c55" stroke-width="4.2" fill="none"/>
<rect x="1404.19" y="848.6" width="43.2" height="77.7" fill="#fff" stroke="#344c55" stroke-width="4.2"/>
<line x1="1404.19" y1="907.4" x2="1447.39" y2="907.4" stroke="#344c55" stroke-width="7.8"/>
<path d="M1512.19 650.1V841.7 M1494.89 650.1H1529.49 M1494.89 841.7H1529.49" stroke="#d78c48" stroke-width="4.2" fill="none"/>
<rect x="1490.59" y="711" width="43.2" height="61.6" fill="#fff" stroke="#d78c48" stroke-width="4.2"/>
<line x1="1490.59" y1="729.3" x2="1533.79" y2="729.3" stroke="#d78c48" stroke-width="7.8"/>
<path d="M1598.59 631V817.3 M1581.29 631H1615.89 M1581.29 817.3H1615.89" stroke="#0f9dd0" stroke-width="4.2" fill="none"/>
<rect x="1576.99" y="676.5" width="43.2" height="78.3" fill="#fff" stroke="#0f9dd0" stroke-width="4.2"/>
<line x1="1576.99" y1="696" x2="1620.19" y2="696" stroke="#0f9dd0" stroke-width="7.8"/>
<path d="M1684.99 784.7V926.8 M1667.69 784.7H1702.29 M1667.69 926.8H1702.29" stroke="#b34443" stroke-width="4.2" fill="none"/>
<rect x="1663.39" y="824.1" width="43.2" height="79.2" fill="#fff" stroke="#b34443" stroke-width="4.2"/>
<line x1="1663.39" y1="866.8" x2="1706.59" y2="866.8" stroke="#b34443" stroke-width="7.8"/>
<g fill="none" stroke="#344c55" stroke-width="3.2">
<circle cx="1419.3" cy="760.3" r="5.4"/>
<circle cx="1413.4" cy="848.1" r="5.4"/>
<circle cx="1437.5" cy="845.3" r="5.4"/>
<circle cx="1430" cy="861.8" r="5.4"/>
<circle cx="1414" cy="909.7" r="5.4"/>
<circle cx="1423.9" cy="906.9" r="5.4"/>
<circle cx="1431.1" cy="925.6" r="5.4"/>
<circle cx="1442.6" cy="935.9" r="5.4"/>
<circle cx="1426.1" cy="979.2" r="5.4"/>
</g>
<g fill="none" stroke="#d78c48" stroke-width="3.2">
<circle cx="1505.3" cy="650.1" r="5.4"/>
<circle cx="1511.6" cy="667.5" r="5.4"/>
<circle cx="1526.2" cy="710.6" r="5.4"/>
<circle cx="1501.5" cy="719.1" r="5.4"/>
<circle cx="1495.2" cy="729.9" r="5.4"/>
<circle cx="1509" cy="744.1" r="5.4"/>
<circle cx="1501.3" cy="772.5" r="5.4"/>
<circle cx="1522.2" cy="788.8" r="5.4"/>
<circle cx="1507.6" cy="841.7" r="5.4"/>
</g>
<g fill="none" stroke="#0f9dd0" stroke-width="3.2">
<circle cx="1608.1" cy="631" r="5.4"/>
<circle cx="1591.2" cy="641.5" r="5.4"/>
<circle cx="1602" cy="676.5" r="5.4"/>
<circle cx="1588.6" cy="694.3" r="5.4"/>
<circle cx="1601" cy="695" r="5.4"/>
<circle cx="1608.5" cy="747.1" r="5.4"/>
<circle cx="1615" cy="755.3" r="5.4"/>
<circle cx="1612.5" cy="800" r="5.4"/>
<circle cx="1594.2" cy="817.3" r="5.4"/>
</g>
<g fill="none" stroke="#b34443" stroke-width="3.2">
<circle cx="1676.4" cy="784.2" r="5.4"/>
<circle cx="1678" cy="786" r="5.4"/>
<circle cx="1694.6" cy="824.1" r="5.4"/>
<circle cx="1698" cy="832.1" r="5.4"/>
<circle cx="1679.3" cy="866.3" r="5.4"/>
<circle cx="1700.8" cy="874.3" r="5.4"/>
<circle cx="1686.6" cy="901.7" r="5.4"/>
<circle cx="1683.2" cy="923.4" r="5.4"/>
<circle cx="1684" cy="926" r="5.4"/>
</g>
<circle cx="1423.9" cy="906.9" r="6.6" fill="#344c55"/>
<circle cx="1588.6" cy="694.3" r="6.6" fill="#0f9dd0"/>
<circle cx="1600.4" cy="696" r="6.6" fill="#0f9dd0"/>
<circle cx="1679.3" cy="866.3" r="6.6" fill="#b34443"/>
<text class="let" transform="translate(1456.69,852.4) scale(1.0000,1)" font-size="27.8" fill="#3a4b9f">b</text>
<text class="let" transform="translate(1530.05,703.3) scale(1.0000,1)" font-size="27.8" fill="#3a4b9f">a</text>
<text class="let" transform="translate(1618.35,662) scale(1.0000,1)" font-size="27.8" fill="#3a4b9f">a</text>
<text class="let" transform="translate(1707.59,812.8) scale(1.0000,1)" font-size="27.8" fill="#3a4b9f">b</text>
<rect x="1373.95" y="613.6" width="362.88" height="383.6" fill="none" stroke="#000" stroke-width="1.8"/>
<path d="M1362.95 968.5H1373.95 M1362.95 895.3H1373.95 M1362.95 822.5H1373.95 M1362.95 749.6H1373.95 M1362.95 676.5H1373.95 M1425.79 997.2V1008.2 M1512.19 997.2V1008.2 M1598.59 997.2V1008.2 M1684.99 997.2V1008.2" stroke="#000" stroke-width="1.8" fill="none"/>
<text transform="translate(1328.84,976.9) scale(1.0300,1)" font-size="23" fill="#000">12</text>
<text transform="translate(1328.36,903.7) scale(1.0300,1)" font-size="23" fill="#000">14</text>
<text transform="translate(1328.72,830.9) scale(1.0300,1)" font-size="23" fill="#000">16</text>
<text transform="translate(1328.6,758) scale(1.0300,1)" font-size="23" fill="#000">18</text>
<text transform="translate(1328.6,684.9) scale(1.0300,1)" font-size="23" fill="#000">20</text>
<text transform="translate(1438.09,1028.2) rotate(-45)" font-size="23.6" text-anchor="end">CSX8308</text>
<text transform="translate(1524.49,1028.2) rotate(-45)" font-size="23.6" text-anchor="end">FM958</text>
<text transform="translate(1610.89,1028.2) rotate(-45)" font-size="23.6" text-anchor="end">UA48</text>
<text transform="translate(1697.29,1028.2) rotate(-45)" font-size="23.6" text-anchor="end">UGA230</text>
<text transform="translate(1509.42,604.4) scale(1.1807,1)" font-size="24.1" fill="#000">Oil (%)</text>
</g>
<g>
<path d="M1803.95 932.9H2167.5 M1803.95 836.7H2167.5 M1803.95 740.6H2167.5 M1803.95 645H2167.5 M1855.79 613.6V997.2 M1942.19 613.6V997.2 M2028.59 613.6V997.2 M2114.99 613.6V997.2" stroke="#1a1a1a" stroke-width="1.0" stroke-dasharray="3,3" fill="none"/>
<path d="M1855.79 650.7V869.3 M1838.49 650.7H1873.09 M1838.49 869.3H1873.09" stroke="#344c55" stroke-width="4.2" fill="none"/>
<rect x="1834.19" y="712.6" width="43.2" height="66" fill="#fff" stroke="#344c55" stroke-width="4.2"/>
<line x1="1834.19" y1="756.9" x2="1877.39" y2="756.9" stroke="#344c55" stroke-width="7.8"/>
<path d="M1942.19 631V920.6 M1924.89 631H1959.49 M1924.89 920.6H1959.49" stroke="#d78c48" stroke-width="4.2" fill="none"/>
<rect x="1920.59" y="724.8" width="43.2" height="85" fill="#fff" stroke="#d78c48" stroke-width="4.2"/>
<line x1="1920.59" y1="742.1" x2="1963.79" y2="742.1" stroke="#d78c48" stroke-width="7.8"/>
<path d="M2028.59 763.5V864 M2011.29 763.5H2045.89 M2011.29 864H2045.89" stroke="#0f9dd0" stroke-width="4.2" fill="none"/>
<rect x="2006.99" y="794.5" width="43.2" height="58.1" fill="#fff" stroke="#0f9dd0" stroke-width="4.2"/>
<line x1="2006.99" y1="796.8" x2="2050.19" y2="796.8" stroke="#0f9dd0" stroke-width="7.8"/>
<path d="M2114.99 696.8V821.4 M2097.69 696.8H2132.29 M2097.69 821.4H2132.29" stroke="#b34443" stroke-width="4.2" fill="none"/>
<rect x="2093.39" y="702.9" width="43.2" height="109.8" fill="#fff" stroke="#b34443" stroke-width="4.2"/>
<line x1="2093.39" y1="736.6" x2="2136.59" y2="736.6" stroke="#b34443" stroke-width="7.8"/>
<g fill="none" stroke="#344c55" stroke-width="3.2">
<circle cx="1841.7" cy="651.3" r="5.4"/>
<circle cx="1866.7" cy="650.7" r="5.4"/>
<circle cx="1846.8" cy="712.6" r="5.4"/>
<circle cx="1848.8" cy="748.2" r="5.4"/>
<circle cx="1871.2" cy="756.3" r="5.4"/>
<circle cx="1863.4" cy="761.3" r="5.4"/>
<circle cx="1845.8" cy="779.2" r="5.4"/>
<circle cx="1847.4" cy="811.6" r="5.4"/>
<circle cx="1841.7" cy="869.3" r="5.4"/>
</g>
<g fill="none" stroke="#d78c48" stroke-width="3.2">
<circle cx="1956.4" cy="631" r="5.4"/>
<circle cx="1928.4" cy="684.2" r="5.4"/>
<circle cx="1929" cy="725.8" r="5.4"/>
<circle cx="1939.2" cy="736" r="5.4"/>
<circle cx="1929" cy="743.1" r="5.4"/>
<circle cx="1958.5" cy="797.9" r="5.4"/>
<circle cx="1959.2" cy="810.4" r="5.4"/>
<circle cx="1944.4" cy="815" r="5.4"/>
<circle cx="1941" cy="920.6" r="5.4"/>
</g>
<g fill="none" stroke="#0f9dd0" stroke-width="3.2">
<circle cx="2031.6" cy="763.4" r="5.4"/>
<circle cx="2027.5" cy="782.7" r="5.4"/>
<circle cx="2012.3" cy="791.8" r="5.4"/>
<circle cx="2022" cy="805.9" r="5.4"/>
<circle cx="2044.3" cy="852.6" r="5.4"/>
<circle cx="2033.3" cy="863.4" r="5.4"/>
<circle cx="2022.4" cy="950.7" r="5.4"/>
</g>
<g fill="none" stroke="#b34443" stroke-width="3.2">
<circle cx="2121.9" cy="695.4" r="5.4"/>
<circle cx="2110.8" cy="702.5" r="5.4"/>
<circle cx="2127" cy="714.6" r="5.4"/>
<circle cx="2108.7" cy="737" r="5.4"/>
<circle cx="2101.3" cy="801.3" r="5.4"/>
<circle cx="2121.9" cy="811.6" r="5.4"/>
<circle cx="2105.2" cy="821.9" r="5.4"/>
<circle cx="2107.5" cy="979.9" r="5.4"/>
</g>
<circle cx="1871.2" cy="756.3" r="6.6" fill="#344c55"/>
<circle cx="1929" cy="743.1" r="6.6" fill="#d78c48"/>
<circle cx="2108.7" cy="737" r="6.6" fill="#b34443"/>
<text class="let" transform="translate(1871.95,701.2) scale(1.0000,1)" font-size="27.8" fill="#3a4b9f">a</text>
<text class="let" transform="translate(1953.15,715.4) scale(1.0000,1)" font-size="27.8" fill="#3a4b9f">a</text>
<text class="let" transform="translate(2052.09,784.5) scale(1.0000,1)" font-size="27.8" fill="#3a4b9f">b</text>
<text class="let" transform="translate(2122.75,677.7) scale(1.0000,1)" font-size="27.8" fill="#3a4b9f">a,b</text>
<rect x="1803.95" y="613.6" width="363.55" height="383.6" fill="none" stroke="#000" stroke-width="1.8"/>
<path d="M1792.95 932.9H1803.95 M1792.95 836.7H1803.95 M1792.95 740.6H1803.95 M1792.95 645H1803.95 M1855.79 997.2V1008.2 M1942.19 997.2V1008.2 M2028.59 997.2V1008.2 M2114.99 997.2V1008.2" stroke="#000" stroke-width="1.8" fill="none"/>
<text transform="translate(1758.6,941.3) scale(1.0300,1)" font-size="23" fill="#000">18</text>
<text transform="translate(1758.6,845.1) scale(1.0300,1)" font-size="23" fill="#000">20</text>
<text transform="translate(1758.84,749) scale(1.0300,1)" font-size="23" fill="#000">22</text>
<text transform="translate(1758.36,653.4) scale(1.0300,1)" font-size="23" fill="#000">24</text>
<text transform="translate(1868.09,1028.2) rotate(-45)" font-size="23.6" text-anchor="end">CSX8308</text>
<text transform="translate(1954.49,1028.2) rotate(-45)" font-size="23.6" text-anchor="end">FM958</text>
<text transform="translate(2040.89,1028.2) rotate(-45)" font-size="23.6" text-anchor="end">UA48</text>
<text transform="translate(2127.29,1028.2) rotate(-45)" font-size="23.6" text-anchor="end">UGA230</text>
<text transform="translate(1916.53,604.4) scale(1.1765,1)" font-size="24.1" fill="#000">Protein (%)</text>
</g>
</svg></body></html>
